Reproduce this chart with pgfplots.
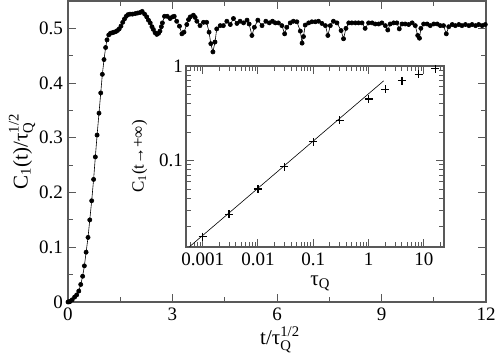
\documentclass[border=0pt]{standalone}
\usepackage{amsmath}
\usepackage{fontspec}
\setmainfont{Liberation Serif}
\usepackage{pgfplots}
\pgfplotsset{compat=1.18}

\definecolor{frame}{gray}{0.35}

\pgfplotstableread{
t C
0 0
0.03 0.0003
0.06 0.001
0.12 0.004
0.19 0.009
0.25 0.013
0.31 0.020
0.365 0.032
0.42 0.047
0.47 0.066
0.52 0.091
0.575 0.118
0.625 0.150
0.68 0.185
0.735 0.224
0.785 0.265
0.835 0.305
0.89 0.345
0.94 0.382
0.986 0.416
1.034 0.443
1.08 0.465
1.12 0.479
1.17 0.488
1.22 0.491
1.27 0.492
1.32 0.493
1.37 0.494
1.42 0.496
1.47 0.499
1.52 0.504
1.57 0.511
1.62 0.517
1.67 0.522
1.72 0.525
1.78 0.526
1.85 0.526
1.93 0.527
2.00 0.528
2.07 0.529
2.13 0.531
2.20 0.526
2.26 0.521
2.31 0.515
2.36 0.510
2.41 0.503
2.45 0.498
2.50 0.492
2.55 0.489
2.60 0.491
2.64 0.495
2.68 0.503
2.71 0.510
2.77 0.522
2.85 0.522
2.93 0.518
3.00 0.521
3.05 0.522
3.12 0.513
3.20 0.504
3.27 0.490
3.33 0.493
3.41 0.507
3.46 0.516
3.51 0.521
3.60 0.524
3.65 0.520
3.70 0.513
3.79 0.505
3.89 0.511
3.98 0.511
4.05 0.493
4.10 0.472
4.16 0.457
4.22 0.475
4.27 0.499
4.37 0.505
4.46 0.505
4.56 0.513
4.66 0.507
4.75 0.518
4.85 0.509
4.94 0.513
5.04 0.510
5.14 0.515
5.20 0.508
5.28 0.487
5.35 0.502
5.45 0.515
5.57 0.505
5.68 0.513
5.78 0.510
5.87 0.513
5.95 0.510
6.04 0.510
6.14 0.505
6.22 0.490
6.28 0.502
6.38 0.510
6.47 0.513
6.57 0.512
6.67 0.495
6.72 0.473
6.76 0.485
6.81 0.506
6.91 0.510
7.00 0.512
7.10 0.512
7.19 0.513
7.29 0.509
7.39 0.505
7.46 0.487
7.53 0.505
7.62 0.513
7.72 0.510
7.84 0.496
7.91 0.481
7.98 0.500
8.06 0.510
8.15 0.510
8.25 0.510
8.34 0.510
8.44 0.510
8.53 0.500
8.63 0.510
8.73 0.510
8.82 0.508
8.92 0.508
9.01 0.510
9.11 0.505
9.18 0.497
9.25 0.508
9.35 0.510
9.44 0.510
9.51 0.499
9.59 0.508
9.68 0.508
9.78 0.507
9.88 0.510
9.97 0.505
10.04 0.487
10.09 0.482
10.13 0.500
10.21 0.508
10.31 0.508
10.40 0.505
10.50 0.508
10.60 0.508
10.69 0.505
10.78 0.505
10.86 0.490
10.93 0.503
11.03 0.507
11.12 0.505
11.22 0.507
11.31 0.505
11.41 0.507
11.51 0.505
11.60 0.507
11.70 0.505
11.79 0.507
11.89 0.505
11.98 0.507
}\maindata

\pgfplotstableread{
tau C
0.001 0.0157
0.003 0.0271
0.01 0.0500
0.03 0.0863
0.1 0.158
0.3 0.267
1 0.449
2 0.569
4 0.698
8 0.820
16 0.935
}\insetdata

\begin{document}
\begin{tikzpicture}
\useasboundingbox (-68pt,-53pt) rectangle (430pt,302pt);
\pgfplotsset{
  every axis/.append style={
    axis line style={frame, line width=1.2pt},
    every tick/.style={frame, line width=1pt},
    tick align=inside,
    tick label style={font=\fontsize{19}{22}\selectfont},
  }
}
\begin{axis}[
  name=main, at={(0,0)}, anchor=south west,
  scale only axis, width=418pt, height=301pt,
  xmin=0, xmax=12, ymin=0, ymax=0.55,
  xtick={0,3,6,9,12}, xticklabels={0,3,6,9,12},
  minor xtick={1.5,4.5,7.5,10.5},
  ytick={0,0.1,0.2,0.3,0.4,0.5},
  yticklabels={0,0.1,0.2,0.3,0.4,0.5},
  minor ytick={0.05,0.15,0.25,0.35,0.45},
  major tick length=8pt, minor tick length=5pt,
  yticklabel style={inner sep=0pt, xshift=-5pt},
  xticklabel style={inner sep=0pt, yshift=-6pt},
  xlabel={$\text{t/τ}_{\text{Q}}^{\text{1/2}}$},
  ylabel={$\text{C}_{\text{1}}\text{(t)/τ}_{\text{Q}}^{\text{1/2}}$},
  every axis x label/.style={at={(axis description cs:0.507,-0.125)}, anchor=center,
    font=\fontsize{21}{25}\selectfont},
  every axis y label/.style={at={(axis description cs:-0.11,0.5)}, anchor=center, rotate=90,
    font=\fontsize{21}{25}\selectfont},
]
\addplot[black, line width=0.6pt, mark=*, mark size=2.1pt] table[x=t, y=C] {\maindata};
\end{axis}

\begin{axis}[
  name=inset, at={(118pt,55pt)}, anchor=south west,
  scale only axis, width=258pt, height=181pt,
  xmode=log, ymode=log,
  xmin=5e-4, xmax=23, ymin=0.0122, ymax=1,
  axis background/.style={fill=white},
  xtick={0.001,0.01,0.1,1,10}, xticklabels={0.001,0.01,0.1,1,10},
  minor xtick={6e-4,7e-4,8e-4,9e-4,0.002,0.003,0.004,0.005,0.006,0.007,0.008,0.009,
    0.02,0.03,0.04,0.05,0.06,0.07,0.08,0.09,0.2,0.3,0.4,0.5,0.6,0.7,0.8,0.9,
    2,3,4,5,6,7,8,9,20},
  ytick={0.1,1}, yticklabels={0.1,1},
  minor ytick={0.02,0.03,0.04,0.05,0.06,0.07,0.08,0.09,0.2,0.3,0.4,0.5,0.6,0.7,0.8,0.9},
  major tick length=8pt, minor tick length=5pt,
  yticklabel style={inner sep=0pt, xshift=-3pt},
  xticklabel style={inner sep=0pt, yshift=-6pt},
  xlabel={$\text{τ}_{\text{Q}}$},
  ylabel={\fontsize{17}{20}\selectfont C\textsubscript{1}(t→+∞)},
  every axis x label/.style={at={(axis description cs:0.52,-0.2)}, anchor=center,
    font=\fontsize{21}{25}\selectfont},
  every axis y label/.style={at={(axis description cs:-0.18,0.5)}, anchor=center, rotate=90},
]
\addplot[black, line width=0.6pt] coordinates {(0.00058,0.0123) (1.87,0.697)};
\addplot[black, only marks, mark=+, mark size=4pt, line width=1.3pt] table[x=tau, y=C] {\insetdata};
\end{axis}
\end{tikzpicture}
\end{document}
